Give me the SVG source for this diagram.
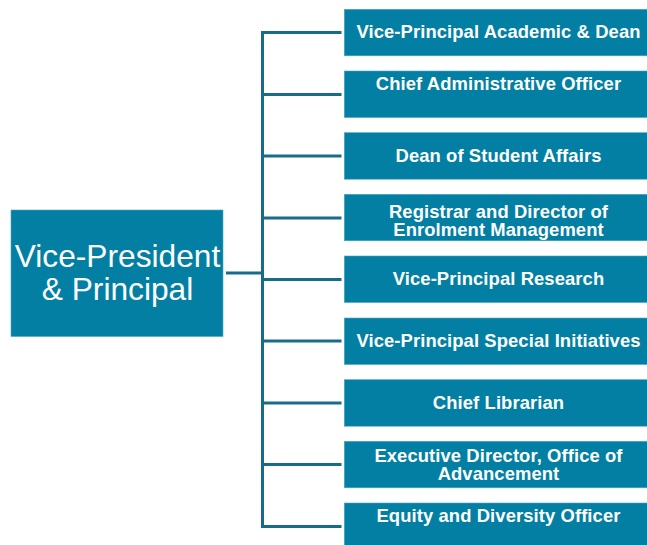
<svg xmlns="http://www.w3.org/2000/svg" width="647" height="545" viewBox="0 0 647 545">
<style>
.box{fill:#027fa3;stroke:#4ea6c0;stroke-width:0.6}
.t{font-family:"Liberation Sans",Arial,sans-serif;font-weight:bold;font-size:18.4px;letter-spacing:0.1px;fill:#ffffff;text-anchor:middle}
.m{font-family:"Liberation Sans",Arial,sans-serif;font-size:31.7px;fill:#ffffff;text-anchor:middle}
.c{stroke:#186c8a;stroke-width:3;fill:none}
</style>
<rect width="647" height="545" fill="#ffffff"/>
<g id="connectors">
<line class="c" x1="226" y1="273" x2="262.5" y2="273"/>
<line class="c" x1="262.5" y1="31" x2="262.5" y2="528"/>
<line class="c" x1="261" y1="32.5" x2="341.5" y2="32.5"/>
<line class="c" x1="261" y1="94.5" x2="341.5" y2="94.5"/>
<line class="c" x1="261" y1="156" x2="341.5" y2="156"/>
<line class="c" x1="261" y1="218" x2="341.5" y2="218"/>
<line class="c" x1="261" y1="279.5" x2="341.5" y2="279.5"/>
<line class="c" x1="261" y1="341" x2="341.5" y2="341"/>
<line class="c" x1="261" y1="403" x2="341.5" y2="403"/>
<line class="c" x1="261" y1="464.5" x2="341.5" y2="464.5"/>
<line class="c" x1="261" y1="526.5" x2="341.5" y2="526.5"/>
</g>
<g id="vp">
<rect class="box" x="11" y="210" width="212" height="126.5"/>
<text class="m" x="117.5" y="266.5">Vice-President</text>
<text class="m" x="117.5" y="300">&amp; Principal</text>
</g>
<g id="n1"><rect class="box" x="344.3" y="9.3" width="310" height="46.5"/><text class="t" x="498.5" y="37.5">Vice-Principal Academic &amp; Dean</text></g>
<g id="n2"><rect class="box" x="344.3" y="71" width="310" height="46.5"/><text class="t" x="498.5" y="90">Chief Administrative Officer</text></g>
<g id="n3"><rect class="box" x="344.3" y="132.7" width="310" height="46.5"/><text class="t" x="498.5" y="161.7">Dean of Student Affairs</text></g>
<g id="n4"><rect class="box" x="344.3" y="194.3" width="310" height="46.5"/><text class="t" x="498.5" y="217.7">Registrar and Director of</text><text class="t" x="498.5" y="236.3">Enrolment Management</text></g>
<g id="n5"><rect class="box" x="344.3" y="256" width="310" height="46.5"/><text class="t" x="498.5" y="285">Vice-Principal Research</text></g>
<g id="n6"><rect class="box" x="344.3" y="318" width="310" height="46.5"/><text class="t" x="498.5" y="346.7">Vice-Principal Special Initiatives</text></g>
<g id="n7"><rect class="box" x="344.3" y="379.7" width="310" height="46.5"/><text class="t" x="498.5" y="409">Chief Librarian</text></g>
<g id="n8"><rect class="box" x="344.3" y="441.3" width="310" height="46.5"/><text class="t" x="498.5" y="461.7">Executive Director, Office of</text><text class="t" x="498.5" y="480">Advancement</text></g>
<g id="n9"><rect class="box" x="344.3" y="503" width="310" height="46.5"/><text class="t" x="498.5" y="521.7">Equity and Diversity Officer</text></g>
</svg>
